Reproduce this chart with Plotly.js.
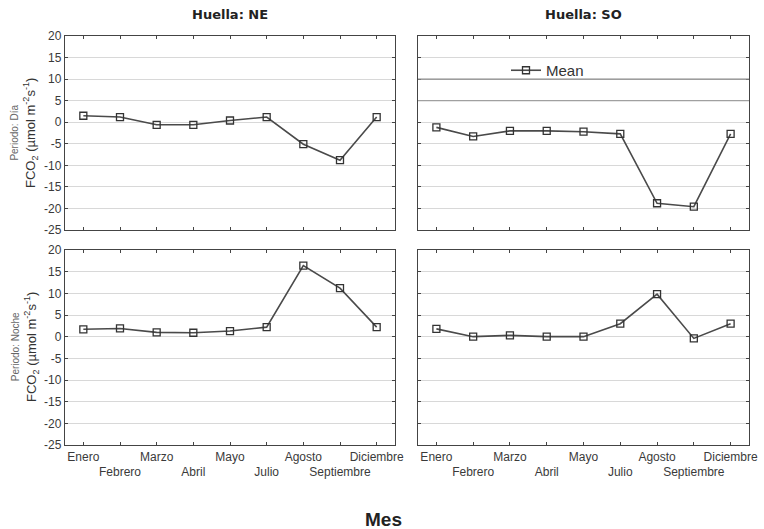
<!DOCTYPE html>
<html>
<head>
<meta charset="utf-8">
<script src="https://cdn.plot.ly/plotly-3.0.1.min.js"></script>
<style>html,body{margin:0;padding:0;background:#fff;}#chart{width:764px;height:529px;}</style>
</head>
<body>
<div id="chart"></div>
<script>
const months = ['Enero','Febrero','Marzo','Abril','Mayo','Julio','Agosto','Septiembre','Diciembre'];
const diaNE = [1.5, 1.2, -0.6, -0.6, 0.4, 1.2, -5.1, -8.8, 1.2];
const diaSO = [-1.2, -3.3, -2.0, -2.0, -2.2, -2.7, -18.8, -19.6, -2.7];
const nocheNE = [1.7, 1.9, 1.0, 0.9, 1.3, 2.2, 16.4, 11.2, 2.2];
const nocheSO = [1.8, 0.0, 0.3, 0.0, 0.0, 3.0, 9.8, -0.4, 3.0];
const yTicks = [-25, -20, -15, -10, -5, 0, 5, 10, 15, 20];
const yTickText = ['-25', '-20', '-15', '-10', '-5', '0', '5', '10', '15', '20'];
const colTitles = ['Huella: NE', 'Huella: SO'];
const rowLabels = ['Periodo: Día', 'Periodo: Noche'];
const xTitle = 'Mes';
const legendName = 'Mean';

const W = 764, H = 529;
const px = v => v / W;
const py = v => 1 - v / H;

const xTickText = months.map((m, i) => i % 2 === 0 ? m : '<br>' + m);

const lineColor = '#4a4a4a';
function trace(y, xa, ya, show) {
  return {
    x: months, y: y, xaxis: xa, yaxis: ya, type: 'scatter', mode: 'lines+markers',
    name: legendName, showlegend: show,
    line: {color: lineColor, width: 1.6},
    marker: {symbol: 'square-open', size: 7, color: '#333', line: {width: 1.3, color: '#333'}},
    cliponaxis: false
  };
}

const data = [
  trace(diaNE, 'x', 'y', false),
  trace(diaSO, 'x2', 'y2', true),
  trace(nocheNE, 'x3', 'y3', false),
  trace(nocheSO, 'x4', 'y4', false)
];

const tickFont = {family: 'Liberation Sans, Arial, sans-serif', size: 12, color: '#3a3a3a'};
function xAxis(dom, anchor, showLabels) {
  return {
    domain: dom, anchor: anchor, type: 'category', range: [-0.5, 8.5],
    tickvals: months, ticktext: xTickText, showticklabels: showLabels, tickangle: 0,
    ticks: 'inside', ticklen: 3, tickcolor: '#444', mirror: 'ticks',
    showline: true, linecolor: '#444', linewidth: 1.2, showgrid: false, zeroline: false,
    tickfont: tickFont, automargin: false, fixedrange: true
  };
}
function yAxis(dom, anchor, showLabels) {
  return {
    domain: dom, anchor: anchor, range: [-25, 20], tickvals: yTicks, ticktext: yTickText,
    showticklabels: showLabels, ticks: 'inside', ticklen: 3, tickcolor: '#444', mirror: 'ticks',
    showline: true, linecolor: '#444', linewidth: 1.2,
    showgrid: true, gridcolor: '#d8d8d8', gridwidth: 1, zeroline: false,
    tickfont: tickFont, automargin: false, fixedrange: true
  };
}

const xL = [px(65), px(395)], xR = [px(418), px(749)];
const yT = [py(230), py(36)], yB = [py(445), py(250)];

const yTitle = (lab) => '<span style="font-size:10px;color:#666">' + lab + '</span><br>FCO<sub>2</sub> (µmol m<sup>-2</sup>s<sup>-1</sup>)';

const layout = {
  width: W, height: H,
  margin: {l: 0, r: 0, t: 0, b: 0},
  paper_bgcolor: '#fff', plot_bgcolor: '#fff',
  font: {family: 'Liberation Sans, Arial, sans-serif', color: '#222'},
  xaxis: xAxis(xL, 'y', false), yaxis: yAxis(yT, 'x', true),
  xaxis2: xAxis(xR, 'y2', false), yaxis2: yAxis(yT, 'x2', false),
  xaxis3: xAxis(xL, 'y3', true), yaxis3: yAxis(yB, 'x3', true),
  xaxis4: xAxis(xR, 'y4', true), yaxis4: yAxis(yB, 'x4', false),
  showlegend: true,
  legend: {x: px(506), y: py(54), xanchor: 'left', yanchor: 'top', bgcolor: 'rgba(0,0,0,0)',
           font: {size: 15, color: '#333'}, itemwidth: 30, tracegroupgap: 0},
  shapes: [
    {type: 'line', xref: 'x2 domain', yref: 'y2', x0: 0, x1: 1, y0: 10, y1: 10, line: {color: '#8a8a8a', width: 1.2}},
    {type: 'line', xref: 'x2 domain', yref: 'y2', x0: 0, x1: 1, y0: 5, y1: 5, line: {color: '#a0a0a0', width: 1.2}}
  ],
  annotations: [
    {text: '<b>' + colTitles[0] + '</b>', xref: 'paper', yref: 'paper', x: px(230), y: py(14), xanchor: 'center', yanchor: 'middle', showarrow: false, font: {family: 'DejaVu Sans, sans-serif', size: 13, color: '#222'}},
    {text: '<b>' + colTitles[1] + '</b>', xref: 'paper', yref: 'paper', x: px(583), y: py(14), xanchor: 'center', yanchor: 'middle', showarrow: false, font: {family: 'DejaVu Sans, sans-serif', size: 13, color: '#222'}},
    {text: '<b>' + xTitle + '</b>', xref: 'paper', yref: 'paper', x: px(383), y: py(519), xanchor: 'center', yanchor: 'middle', showarrow: false, font: {size: 19, color: '#222'}},
    {text: yTitle(rowLabels[0]), xref: 'paper', yref: 'paper', x: px(25), y: py(133), xanchor: 'center', yanchor: 'middle', textangle: -90, showarrow: false, font: {size: 13, color: '#333'}},
    {text: yTitle(rowLabels[1]), xref: 'paper', yref: 'paper', x: px(25), y: py(347), xanchor: 'center', yanchor: 'middle', textangle: -90, showarrow: false, font: {size: 13, color: '#333'}}
  ]
};

Plotly.newPlot('chart', data, layout, {displayModeBar: false, staticPlot: true});
</script>
</body>
</html>
